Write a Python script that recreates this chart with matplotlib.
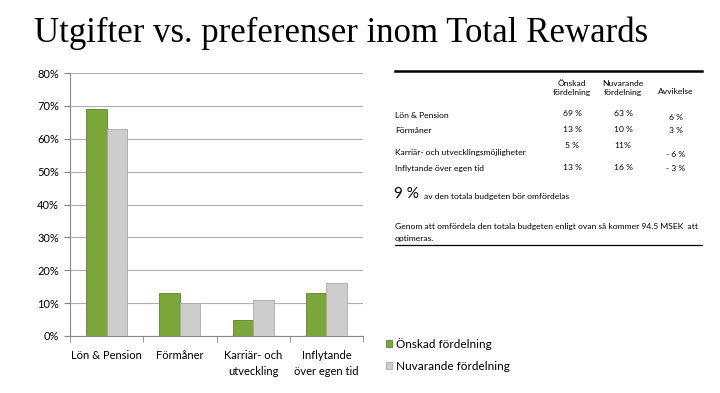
import numpy as np
import matplotlib
matplotlib.use("Agg")
import matplotlib.pyplot as plt
from matplotlib.lines import Line2D
from matplotlib.ticker import FuncFormatter, FixedLocator

categories = ["Lön & Pension", "Förmåner", "Karriär- och\nutveckling", "Inflytande\növer egen tid"]
onskad = [69, 13, 5, 13]
nuvarande = [63, 10, 11, 16]
series_names = ["Önskad fördelning", "Nuvarande fördelning"]

table_rows = ["Lön & Pension", "Förmåner", "Karriär- och utvecklingsmöjligheter", "Inflytande över egen tid"]
table_onskad = ["69 %", "13 %", "5 %", "13 %"]
table_nuv = ["63 %", "10 %", "11%", "16 %"]
table_avv = ["6 %", "3 %", "- 6 %", "- 3 %"]

GREEN = "#7ba63a"
GRAY = "#cdcdcd"
W, H = 720, 393

plt.rcParams["font.family"] = ["Lato", "DejaVu Sans"]

fig = plt.figure(figsize=(7.2, 3.93), dpi=100)
fig.patch.set_facecolor("white")


def px(x, y):
    return x / W, 1 - y / H


# ── Bar chart ─────────────────────────────────────────────────────────────
ax = fig.add_axes([70 / W, 1 - 336 / H, 293 / W, 263 / H])
x = np.arange(len(categories))
bw = 0.28
ax.bar(x - bw / 2, onskad, bw, color=GREEN, edgecolor="#5d8526", linewidth=0.6,
       label=series_names[0], zorder=3)
ax.bar(x + bw / 2, nuvarande, bw, color=GRAY, edgecolor="#a9a9a9", linewidth=0.6,
       label=series_names[1], zorder=3)

ax.set_xlim(-0.5, len(categories) - 0.5)
ax.set_ylim(0, 80)
ax.set_yticks(np.arange(0, 81, 10))
ax.yaxis.set_major_formatter(FuncFormatter(lambda v, p: f"{int(v)}%"))
ax.yaxis.grid(True, color="#b0b0b0", linewidth=0.8, zorder=0)
ax.set_xticks(x)
ax.set_xticklabels(categories, fontsize=8, linespacing=1.6)
ax.xaxis.set_minor_locator(FixedLocator(np.arange(-0.5, len(categories), 1.0)))
ax.tick_params(axis="x", which="major", length=0, pad=10)
ax.tick_params(axis="x", which="minor", length=4, color="#888888", direction="out")
ax.tick_params(axis="y", length=4, color="#888888", labelsize=8, pad=4)
for s in ["top", "right"]:
    ax.spines[s].set_visible(False)
for s in ["left", "bottom"]:
    ax.spines[s].set_color("#888888")
    ax.spines[s].set_linewidth(0.8)

# legend
h, l = ax.get_legend_handles_labels()
fig.legend(h, l, loc="upper left", bbox_to_anchor=px(381, 333), frameon=False,
           fontsize=8.5, handlelength=0.5, handleheight=0.5, handletextpad=0.35,
           labelspacing=0.95, borderaxespad=0)

# ── Title ─────────────────────────────────────────────────────────────────
fig.text(*px(34, 33), "Utgifter vs. preferenser inom Total Rewards",
         family="Liberation Serif", fontsize=25, va="center", ha="left")

# ── Table ─────────────────────────────────────────────────────────────────
fig.add_artist(Line2D([395 / W, 702 / W], [1 - 71 / H] * 2, color="black",
                      linewidth=1.8, transform=fig.transFigure))
fig.add_artist(Line2D([395 / W, 702 / W], [1 - 245 / H] * 2, color="black",
                      linewidth=0.9, transform=fig.transFigure))

fs = 6.1
col_x = [572, 623, 676]
fig.text(*px(col_x[0], 88), "Önskad\nfördelning", fontsize=fs, ha="center", va="center", linespacing=1.35)
fig.text(*px(col_x[1], 88), "Nuvarande\nfördelning", fontsize=fs, ha="center", va="center", linespacing=1.35)
fig.text(*px(col_x[2], 91), "Avvikelse", fontsize=fs, ha="center", va="center")

row_y = [116, 131, 153, 168]
val_y = [114, 129, 146, 167]
avv_y = [117, 131, 154, 168]
for i, name in enumerate(table_rows):
    fig.text(*px(395, row_y[i]), name, fontsize=fs, ha="left", va="center")
    fig.text(*px(col_x[0], val_y[i]), table_onskad[i], fontsize=fs, ha="center", va="center")
    fig.text(*px(col_x[1], val_y[i]), table_nuv[i], fontsize=fs, ha="center", va="center")
    fig.text(*px(col_x[2], avv_y[i]), table_avv[i], fontsize=fs, ha="center", va="center")

fig.text(*px(394, 194), "9 %", fontsize=11, ha="left", va="center")
fig.text(*px(424, 196), "av den totala budgeten bör omfördelas", fontsize=fs, ha="left", va="center")
fig.text(*px(395, 227), "Genom att omfördela den totala budgeten enligt ovan så kommer 94.5 MSEK  att",
         fontsize=fs, ha="left", va="center")
fig.text(*px(395, 238), "optimeras.", fontsize=fs, ha="left", va="center")

fig.savefig("out.png", dpi=100)
